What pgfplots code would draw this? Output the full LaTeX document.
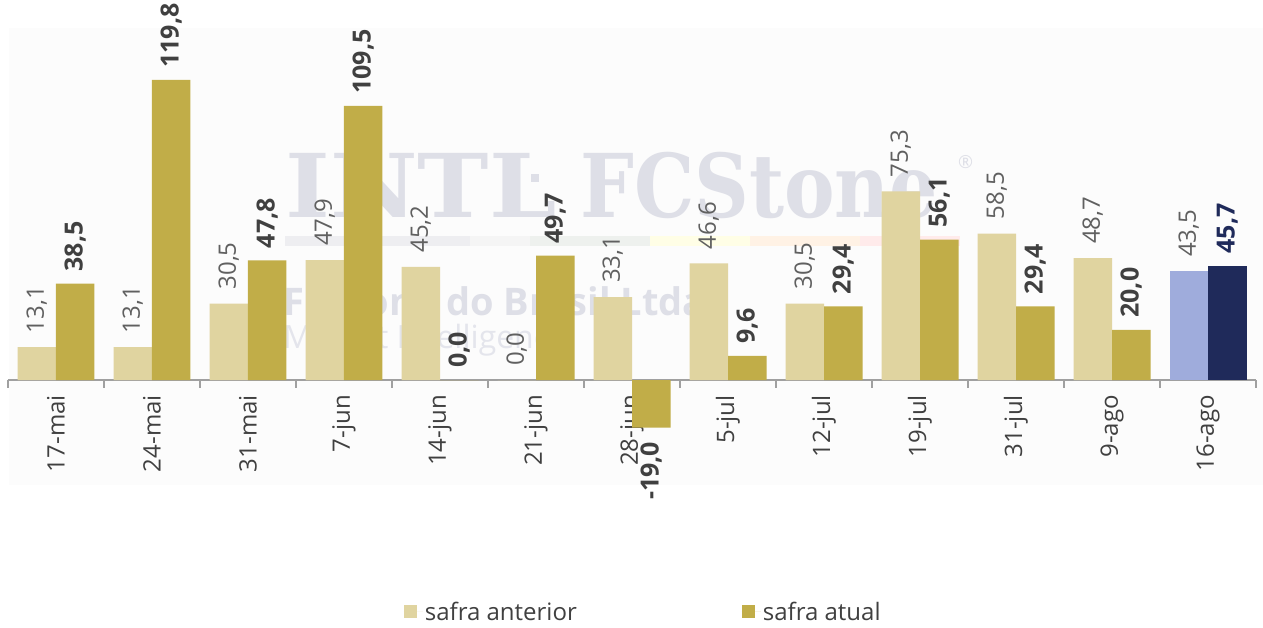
\documentclass[border=0pt]{standalone}
\usepackage{pgfplots}
\pgfplotsset{compat=1.18}
\usepackage{pgfplotstable}
\usepackage{fontspec}
\setmainfont{Open Sans}
\newfontfamily\wmserif{DejaVu Serif}
\definecolor{ant}{RGB}{224,212,160}
\definecolor{atu}{RGB}{193,173,72}
\definecolor{antB}{RGB}{159,172,220}
\definecolor{atuB}{RGB}{31,42,90}
\definecolor{lbl}{RGB}{64,64,64}
\definecolor{lblA}{RGB}{96,96,96}
\definecolor{axgray}{RGB}{160,160,160}
\definecolor{wm}{RGB}{222,223,231}

% xa = category - 0.2005, xb = category + 0.2005 (half bar = 19.25pt)
\pgfplotstableread{
xa xb ant atu lant latu
-0.2005 0.2005 13.1 38.5 13,1 38,5
0.7995 1.2005 13.1 119.8 13,1 119,8
1.7995 2.2005 30.5 47.8 30,5 47,8
2.7995 3.2005 47.9 109.5 47,9 109,5
3.7995 4.2005 45.2 0.0 45,2 0,0
4.7995 5.2005 0.0 49.7 0,0 49,7
5.7995 6.2005 33.1 -19.0 33,1 {}
6.7995 7.2005 46.6 9.6 46,6 9,6
7.7995 8.2005 30.5 29.4 30,5 29,4
8.7995 9.2005 75.3 56.1 75,3 56,1
9.7995 10.2005 58.5 29.4 58,5 29,4
10.7995 11.2005 48.7 20.0 48,7 20,0
}\main
\pgfplotstableread{
xa xb ant atu lant latu
11.7995 12.2005 43.5 45.7 43,5 45,7
}\last

\begin{document}
\begin{tikzpicture}
\useasboundingbox (0pt,0pt) rectangle (1263pt,628pt);
\fill[white] (0pt,0pt) rectangle (1263pt,628pt);
\fill[black!1] (9pt,143pt) rectangle (1263pt,600pt);
% watermark
\node[anchor=west, text=wm, inner sep=0pt, xscale=1.09, font=\wmserif\bfseries\fontsize{88}{90}\selectfont] at (285pt,443pt) {INTL};
\fill[wm] (531pt,446pt) rectangle (539pt,454pt);
\node[anchor=west, text=wm, inner sep=0pt, xscale=0.862, font=\wmserif\bfseries\fontsize{88}{90}\selectfont] at (580pt,443pt) {FCStone};
\node[anchor=west, text=wm, inner sep=0pt, font=\fontsize{18}{20}\selectfont] at (958pt,466pt) {\textregistered};
\fill[blue!8!gray!12] (285pt,382pt) rectangle (470pt,392pt);
\fill[gray!8] (470pt,382pt) rectangle (530pt,392pt);
\fill[green!10!gray!12] (530pt,382pt) rectangle (650pt,392pt);
\fill[yellow!10] (650pt,382pt) rectangle (750pt,392pt);
\fill[orange!10] (750pt,382pt) rectangle (860pt,392pt);
\fill[red!8] (860pt,382pt) rectangle (960pt,392pt);
\node[anchor=west, text=wm, inner sep=0pt, font=\bfseries\fontsize{38}{40}\selectfont] at (283pt,327pt) {FCStone do Brasil Ltda.};
\node[anchor=west, text=wm!80, inner sep=0pt, font=\fontsize{32}{34}\selectfont] at (283pt,288pt) {Market Intelligence};

\begin{axis}[
  at={(8pt,200.4pt)}, anchor=south west,
  scale only axis, width=1248pt, height=348.1pt,
  xmin=-0.5, xmax=12.5, ymin=-19, ymax=120,
  axis x line*=middle, axis y line=none,
  x axis line style={draw=axgray, line width=1.2pt},
  xtick={0,...,12},
  xticklabels={17-mai,24-mai,31-mai,7-jun,14-jun,21-jun,28-jun,5-jul,12-jul,19-jul,31-jul,9-ago,16-ago},
  major tick length=0pt,
  xticklabel style={rotate=90, anchor=east, inner xsep=15pt, inner ysep=0pt, text=lbl, font=\fontsize{24}{28}\selectfont},
  bar width=38.5pt,
  clip=false,
  legend style={at={(0.509,-0.5297)}, anchor=center, draw=none, fill=none, legend columns=2,
    font=\fontsize{24}{28}\selectfont, text=lbl,
    /tikz/every even column/.append style={column sep=163pt}},
  legend image code/.code={\fill[#1] (0pt,-6.5pt) rectangle (13pt,6.5pt); \path (0pt,0pt) -- (19pt,0pt);},
]
\addplot[ybar, bar shift=0pt, fill=ant, draw=none,
  nodes near coords, point meta=explicit symbolic,
  nodes near coords style={rotate=90, anchor=west, inner xsep=14pt, inner ysep=0pt, text=lblA, font=\fontsize{24}{28}\selectfont}]
  table[x=xa, y=ant, meta=lant] {\main};
\addlegendentry{safra anterior}
\addplot[ybar, bar shift=0pt, fill=atu, draw=none,
  nodes near coords, point meta=explicit symbolic,
  nodes near coords style={rotate=90, anchor=west, inner xsep=12pt, inner ysep=0pt, text=lbl, font=\bfseries\fontsize{25}{28}\selectfont}]
  table[x=xb, y=atu, meta=latu] {\main};
\addlegendentry{safra atual}
\addplot[ybar, bar shift=0pt, fill=antB, draw=none, forget plot,
  nodes near coords, point meta=explicit symbolic,
  nodes near coords style={rotate=90, anchor=west, inner xsep=14pt, inner ysep=0pt, text=lblA, font=\fontsize{24}{28}\selectfont}]
  table[x=xa, y=ant, meta=lant] {\last};
\addplot[ybar, bar shift=0pt, fill=atuB, draw=none, forget plot,
  nodes near coords, point meta=explicit symbolic,
  nodes near coords style={rotate=90, anchor=west, inner xsep=12pt, inner ysep=0pt, text=atuB, font=\bfseries\fontsize{25}{28}\selectfont}]
  table[x=xb, y=atu, meta=latu] {\last};
\addplot[draw=none, mark=none, forget plot,
  nodes near coords, point meta=explicit symbolic,
  nodes near coords style={rotate=90, anchor=east, inner xsep=14pt, inner ysep=0pt, text=lbl, font=\bfseries\fontsize{25}{28}\selectfont}]
  coordinates {(6.2005,-19) [-19,0]};
\pgfplotsinvokeforeach{0,...,13}{\draw[axgray, line width=1.2pt] (axis cs:{#1-0.5},0) -- (axis cs:{#1-0.5},-3.2);}
\end{axis}
\end{tikzpicture}
\end{document}
